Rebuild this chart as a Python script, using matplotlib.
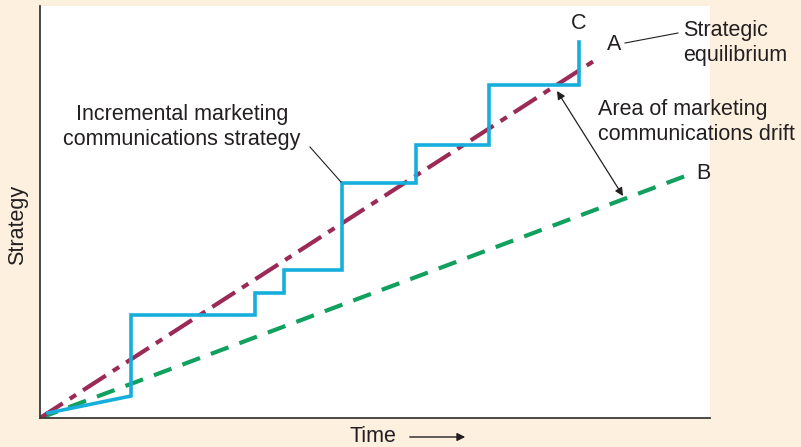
import matplotlib.pyplot as plt

plt.rcParams['font.family'] = ['Liberation Sans', 'DejaVu Sans']

# chart values (time on x, strategy on y)
line_a_x = [0, 560]
line_a_y = [0, 361]
line_b_x = [0, 648]
line_b_y = [0, 243]
step_x = [8, 91, 91, 215, 215, 244, 244, 302, 302, 376, 376, 449, 449, 539, 539]
step_y = [5, 22, 103, 103, 125, 125, 148, 148, 235, 235, 273, 273, 333, 333, 376]

bg = "#fdf0df"
blue = "#16aedb"
maroon = "#9c2a57"
green = "#11a05d"
txt = "#231f20"

fig = plt.figure(figsize=(8.01, 4.47), dpi=100, facecolor=bg)
ax = fig.add_axes([40/801, 29/447, 670/801, 412/447])
ax.set_facecolor("white")
ax.set_xlim(0, 670)
ax.set_ylim(0, 412)

ax.plot(line_b_x, line_b_y, color=green, lw=3.0, dashes=(4.5, 2.8))
ax.plot(line_a_x, line_a_y, color=maroon, lw=3.0, dashes=(6.5, 2.0, 1.8, 2.0))
ax.plot(step_x, step_y, color=blue, lw=2.6, solid_joinstyle="miter")

for s in ["top", "right"]:
    ax.spines[s].set_visible(False)
for s in ["left", "bottom"]:
    ax.spines[s].set_color("#3a3a3a")
    ax.spines[s].set_linewidth(1.3)
ax.set_xticks([])
ax.set_yticks([])

fs = 15.5
ax.text(539, 395, "C", fontsize=fs, color=txt, ha="center", va="center")
ax.text(574, 374, "A", fontsize=fs, color=txt, ha="center", va="center")
ax.text(663, 245, "B", fontsize=fs, color=txt, ha="center", va="center")

ax.text(643, 375, "Strategic\nequilibrium", fontsize=fs, color=txt,
        ha="left", va="center", linespacing=1.3, clip_on=False)
ax.plot([585, 638], [375, 385], color=txt, lw=0.8)

ax.text(558, 296, "Area of marketing\ncommunications drift", fontsize=fs, color=txt,
        ha="left", va="center", linespacing=1.3, clip_on=False)
ax.annotate("", xy=(517, 327), xytext=(583, 222),
            arrowprops=dict(arrowstyle="<|-|>", color=txt, lw=0.9,
                            mutation_scale=12, shrinkA=0, shrinkB=0))

ax.text(142, 291, "Incremental marketing\ncommunications strategy", fontsize=fs,
        color=txt, ha="center", va="center", linespacing=1.3)
ax.plot([270, 301], [271, 236], color=txt, lw=0.8)

fig.text(18/801, 1 - 225/447, "Strategy", fontsize=fs, color=txt, rotation=90,
         ha="center", va="center")
fig.text(350/801, 1 - 437/447, "Time", fontsize=fs, color=txt, ha="left", va="center")
fig.patches.append(plt.matplotlib.patches.FancyArrowPatch(
    (407/801, 1 - 437/447), (468/801, 1 - 437/447), transform=fig.transFigure,
    arrowstyle="-|>", mutation_scale=12, color=txt, lw=1.0))

fig.savefig("out.png", dpi=100, facecolor=bg)
